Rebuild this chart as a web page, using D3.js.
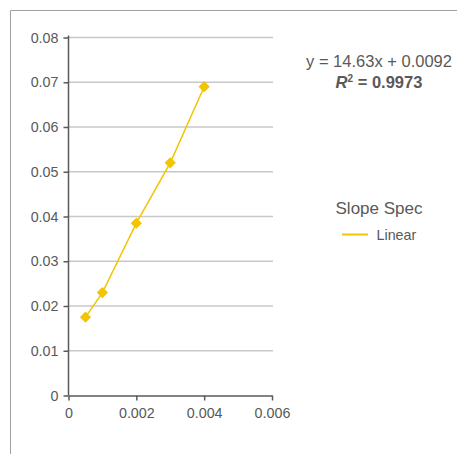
<!DOCTYPE html>
<html>
<head>
<meta charset="utf-8">
<script src="https://cdn.jsdelivr.net/npm/d3@7"></script>
<style>
  body { margin: 0; background: #fff; }
  svg { font-family: "Liberation Sans", Arial, sans-serif; }
</style>
</head>
<body>
<div id="chart"></div>
<script>
// chart values
var xValues = [0.0005, 0.001, 0.002, 0.003, 0.004];
var yValues = [0.0175, 0.023, 0.0385, 0.052, 0.069];
var xTicks = [0, 0.002, 0.004, 0.006];
var yTicks = [0, 0.01, 0.02, 0.03, 0.04, 0.05, 0.06, 0.07, 0.08];
var seriesName = 'Linear';
var legendTitle = 'Slope Spec';
var equation = 'y = 14.63x + 0.0092';
var rSquared = '0.9973';

var width = 457;
var height = 454;
var gold = '#f2c500';

var svg = d3.select('#chart')
  .append('svg')
  .attr('width', width)
  .attr('height', height)

// outer frame (open to right/bottom)
svg.append('path')
  .attr('d', 'M10.5,' + height + ' V10.5 H' + width)
  .attr('fill', 'none')
  .attr('stroke', '#a0a0a0')
  .attr('stroke-width', 1)

var x = d3.scaleLinear().domain([0, 0.006]).range([68.5, 272]);
var y = d3.scaleLinear().domain([0, 0.08]).range([395.5, 37.5]);

// gridlines
svg.append('g')
  .selectAll('line')
  .data(yTicks.slice(1))
  .enter()
  .append('line')
  .attr('x1', x(0))
  .attr('x2', x(0.006) + 1)
  .attr('y1', function(d) { return y(d); })
  .attr('y2', function(d) { return y(d); })
  .attr('stroke', '#c8c8c8')
  .attr('stroke-width', 1.5)

// y axis
var yAxis = svg.append('g')
  .attr('transform', 'translate(' + x(0) + ',0)')
  .call(d3.axisLeft(y).tickValues(yTicks).tickFormat(function(d) { return d === 0 ? '0' : d3.format('.2f')(d); }).tickSize(5).tickSizeOuter(0))
yAxis.select('.domain').attr('d', 'M0,' + (y(0.08) - 2) + 'V' + y(0))

// x axis
var xAxis = svg.append('g')
  .attr('transform', 'translate(0,' + y(0) + ')')
  .call(d3.axisBottom(x).tickValues(xTicks).tickFormat(function(d) { return d === 0 ? '0' : d3.format('.3f')(d); }).tickSize(5).tickSizeOuter(0))

svg.selectAll('.domain, .tick line')
  .attr('stroke', '#5a5a5a')
  .attr('stroke-width', 1.5)
svg.selectAll('.tick text')
  .attr('fill', '#595959')
  .style('font-size', '14.3px')
yAxis.selectAll('.tick text').attr('x', -10)
xAxis.selectAll('.tick text').attr('y', 12.5)

// series
var points = xValues.map(function(d, i) { return [d, yValues[i]]; });

svg.append('path')
  .datum(points)
  .attr('fill', 'none')
  .attr('stroke', gold)
  .attr('stroke-width', 1.5)
  .attr('d', d3.line()
    .x(function(d) { return x(d[0]); })
    .y(function(d) { return y(d[1]); }))

svg.append('g')
  .selectAll('path')
  .data(points)
  .enter()
  .append('path')
  .attr('transform', function(d) { return 'translate(' + x(d[0]) + ',' + y(d[1]) + ')'; })
  .attr('d', d3.symbol().type(d3.symbolDiamond2).size(80))
  .attr('fill', gold)

// trend equation
svg.append('text')
  .attr('x', 379)
  .attr('y', 67)
  .attr('text-anchor', 'middle')
  .attr('fill', '#595959')
  .style('font-size', '16.5px')
  .text(equation)

var r2 = svg.append('text')
  .attr('x', 379)
  .attr('y', 88)
  .attr('text-anchor', 'middle')
  .attr('fill', '#595959')
  .style('font-size', '16.5px')
  .style('font-weight', 'bold')
r2.append('tspan').style('font-style', 'italic').text('R')
r2.append('tspan').attr('dy', -6).style('font-size', '10px').text('2')
r2.append('tspan').attr('dy', 6).text(' = ' + rSquared)

// legend
svg.append('text')
  .attr('x', 379)
  .attr('y', 214)
  .attr('text-anchor', 'middle')
  .attr('fill', '#595959')
  .style('font-size', '17px')
  .text(legendTitle)

svg.append('line')
  .attr('x1', 342)
  .attr('x2', 368)
  .attr('y1', 234.5)
  .attr('y2', 234.5)
  .attr('stroke', gold)
  .attr('stroke-width', 2)

svg.append('text')
  .attr('x', 376.5)
  .attr('y', 239.5)
  .attr('fill', '#595959')
  .style('font-size', '14.3px')
  .text(seriesName)
</script>
</body>
</html>
